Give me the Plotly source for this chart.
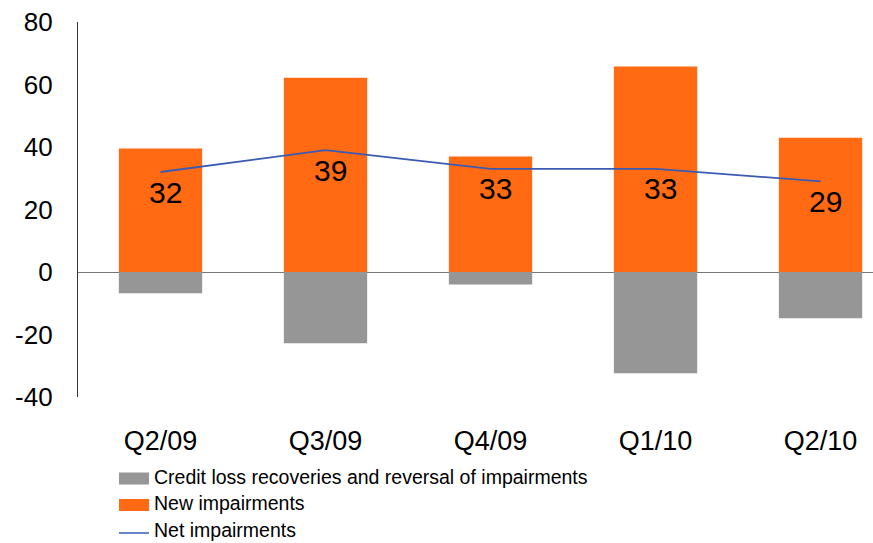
import plotly.graph_objects as go

# Quarterly impairment figures
quarters = ["Q2/09", "Q3/09", "Q4/09", "Q1/10", "Q2/10"]
recoveries = [-6.8, -22.8, -4.0, -32.4, -14.8]
new_impairments = [39.5, 62.2, 37.0, 65.8, 43.0]
net_impairments = [32, 39, 33, 33, 29]
y_ticks = [-40, -20, 0, 20, 40, 60, 80]
y_tick_text = ["-40", "-20", "0", "20", "40", "60", "80"]

FONT = "Liberation Sans, Arial, sans-serif"
ORANGE = "#FF6A13"
GREY = "#969696"
BLUE = "#3A5BB4"

W, H = 873, 543
L, R, T, B = 78, 0, 22, 146
PW, PH = W - L - R, H - T - B


def px_x(x):
    """Pixel column -> paper x."""
    return (x - L) / PW


def px_y(y):
    """Pixel row -> paper y."""
    return (H - B - y) / PH


fig = go.Figure()

names = ["Credit loss recoveries and reversal of impairments", "New impairments", "Net impairments"]

fig.add_trace(go.Bar(
    x=quarters, y=recoveries, name=names[0],
    marker=dict(color=GREY, line=dict(width=0)),
))
fig.add_trace(go.Bar(
    x=quarters, y=new_impairments, name=names[1],
    marker=dict(color=ORANGE, line=dict(width=0)),
))
fig.add_trace(go.Scatter(
    x=quarters, y=net_impairments, name=names[2],
    mode="lines", line=dict(color=BLUE, width=1.8),
))

# Net value labels just below each point of the line
for q, v in zip(quarters, net_impairments):
    fig.add_annotation(
        x=q, y=v, text=str(v), showarrow=False,
        xshift=5, yshift=-20, yanchor="middle",
        font=dict(family=FONT, size=30, color="#000000"),
    )

# Legend drawn beneath the axis: swatches plus labels
legend_rows = [(names[0], GREY, "bar", 478.5, 477),
               (names[1], ORANGE, "bar", 505, 503),
               (names[2], BLUE, "line", 533, 530)]
for label, color, kind, sy, ty in legend_rows:
    if kind == "bar":
        fig.add_shape(type="rect", xref="paper", yref="paper",
                      x0=px_x(119), x1=px_x(149), y0=px_y(sy - 6), y1=px_y(sy + 6),
                      fillcolor=color, line=dict(width=0))
    else:
        fig.add_shape(type="line", xref="paper", yref="paper",
                      x0=px_x(119), x1=px_x(149), y0=px_y(sy), y1=px_y(sy),
                      line=dict(color=color, width=1.5))
    fig.add_annotation(
        xref="paper", yref="paper", x=px_x(151.5), y=px_y(ty),
        xanchor="left", yanchor="middle", showarrow=False, text=label,
        font=dict(family=FONT, size=19.5, color="#000000"),
    )

fig.update_layout(
    width=W, height=H,
    margin=dict(l=L, r=R, t=T, b=B, autoexpand=False),
    paper_bgcolor="white", plot_bgcolor="white",
    barmode="relative", bargap=0.495,
    font=dict(family=FONT, color="#000000"),
    showlegend=False,
    xaxis=dict(
        range=[-0.5, 4.318], showgrid=False, zeroline=False,
        showline=False, ticks="", ticklabelstandoff=25, tickangle=0,
        tickfont=dict(family=FONT, size=27, color="#000000"),
    ),
    yaxis=dict(
        range=[-40, 80], tickvals=y_ticks, ticktext=y_tick_text, showgrid=False,
        zeroline=True, zerolinecolor="#777777", zerolinewidth=1.2,
        showline=True, linecolor="#333333", linewidth=1.2,
        ticks="", ticklabelstandoff=19,
        tickfont=dict(family=FONT, size=26, color="#000000"),
    ),
)

fig.write_html("out.html")
